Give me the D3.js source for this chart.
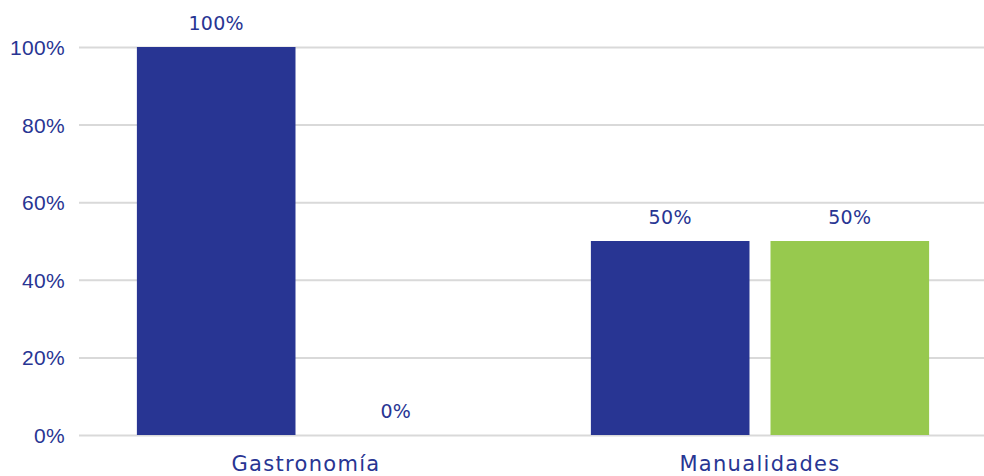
<!DOCTYPE html>
<html>
<head>
<meta charset="utf-8">
<script src="https://cdn.jsdelivr.net/npm/d3@7"></script>
<style>
  html, body { margin: 0; padding: 0; background: #fff; }
  svg { display: block; font-family: "DejaVu Sans", "Noto Sans", sans-serif; }
</style>
</head>
<body>
<svg id="chart" width="984" height="476"></svg>
<script>
// Categories, series and values
const categories = ["Gastronomía", "Manualidades"];
const seriesNames = ["Serie 1", "Serie 2"];
const serie1 = [100, 50];
const serie2 = [0, 50];
const yTicks = [0, 20, 40, 60, 80, 100];

const colors = ["#283593", "#97c94e"];
const textColor = "#283593";

const svg = d3.select("#chart");
const plotLeft = 79, plotRight = 987, plotTop = 47, plotBottom = 435;

const x0 = d3.scaleBand().domain(categories).range([plotLeft, plotRight])
  .paddingInner(0.255).paddingOuter(0.1275);
const x1 = d3.scaleBand().domain(seriesNames).range([0, x0.bandwidth()])
  .paddingInner(0.117).paddingOuter(0);
const y = d3.scaleLinear().domain([0, 100]).range([plotBottom, plotTop]);

// Gridlines and y labels
const yAxis = d3.axisLeft(y).tickValues(yTicks).tickFormat(d => d + "%")
  .tickSize(-(984 - plotLeft)).tickPadding(14);
const gy = svg.append("g").attr("transform", `translate(${plotLeft},0)`).call(yAxis);
gy.select(".domain").remove();
gy.selectAll(".tick line").attr("stroke", "#d9d9d9").attr("stroke-width", 2);
gy.selectAll(".tick text").attr("fill", textColor).attr("font-size", 21)
  .attr("letter-spacing", 0.3).attr("dy", "0.36em");

// Bars
const rows = categories.map((c, i) => ({ cat: c, vals: [serie1[i], serie2[i]] }));
const groups = svg.append("g").selectAll("g").data(rows).join("g")
  .attr("transform", d => `translate(${x0(d.cat)},0)`);

groups.selectAll("rect").data(d => d.vals.map((v, j) => ({ v, s: seriesNames[j], j })))
  .join("rect")
  .attr("x", d => x1(d.s))
  .attr("width", x1.bandwidth())
  .attr("y", d => y(d.v))
  .attr("height", d => y(0) - y(d.v))
  .attr("fill", d => colors[d.j]);

// Value labels
groups.selectAll("text").data(d => d.vals.map((v, j) => ({ v, s: seriesNames[j] })))
  .join("text")
  .attr("x", d => x1(d.s) + x1.bandwidth() / 2)
  .attr("y", d => y(d.v) - 17)
  .attr("text-anchor", "middle")
  .attr("fill", textColor)
  .attr("font-size", 19)
  .attr("letter-spacing", 0.3)
  .text(d => d.v + "%");

// Category labels
svg.append("g").selectAll("text").data(categories).join("text")
  .attr("x", d => x0(d) + x0.bandwidth() / 2)
  .attr("y", 471)
  .attr("text-anchor", "middle")
  .attr("fill", textColor)
  .attr("font-size", 21)
  .attr("letter-spacing", 1.3)
  .text(d => d);
</script>
</body>
</html>
